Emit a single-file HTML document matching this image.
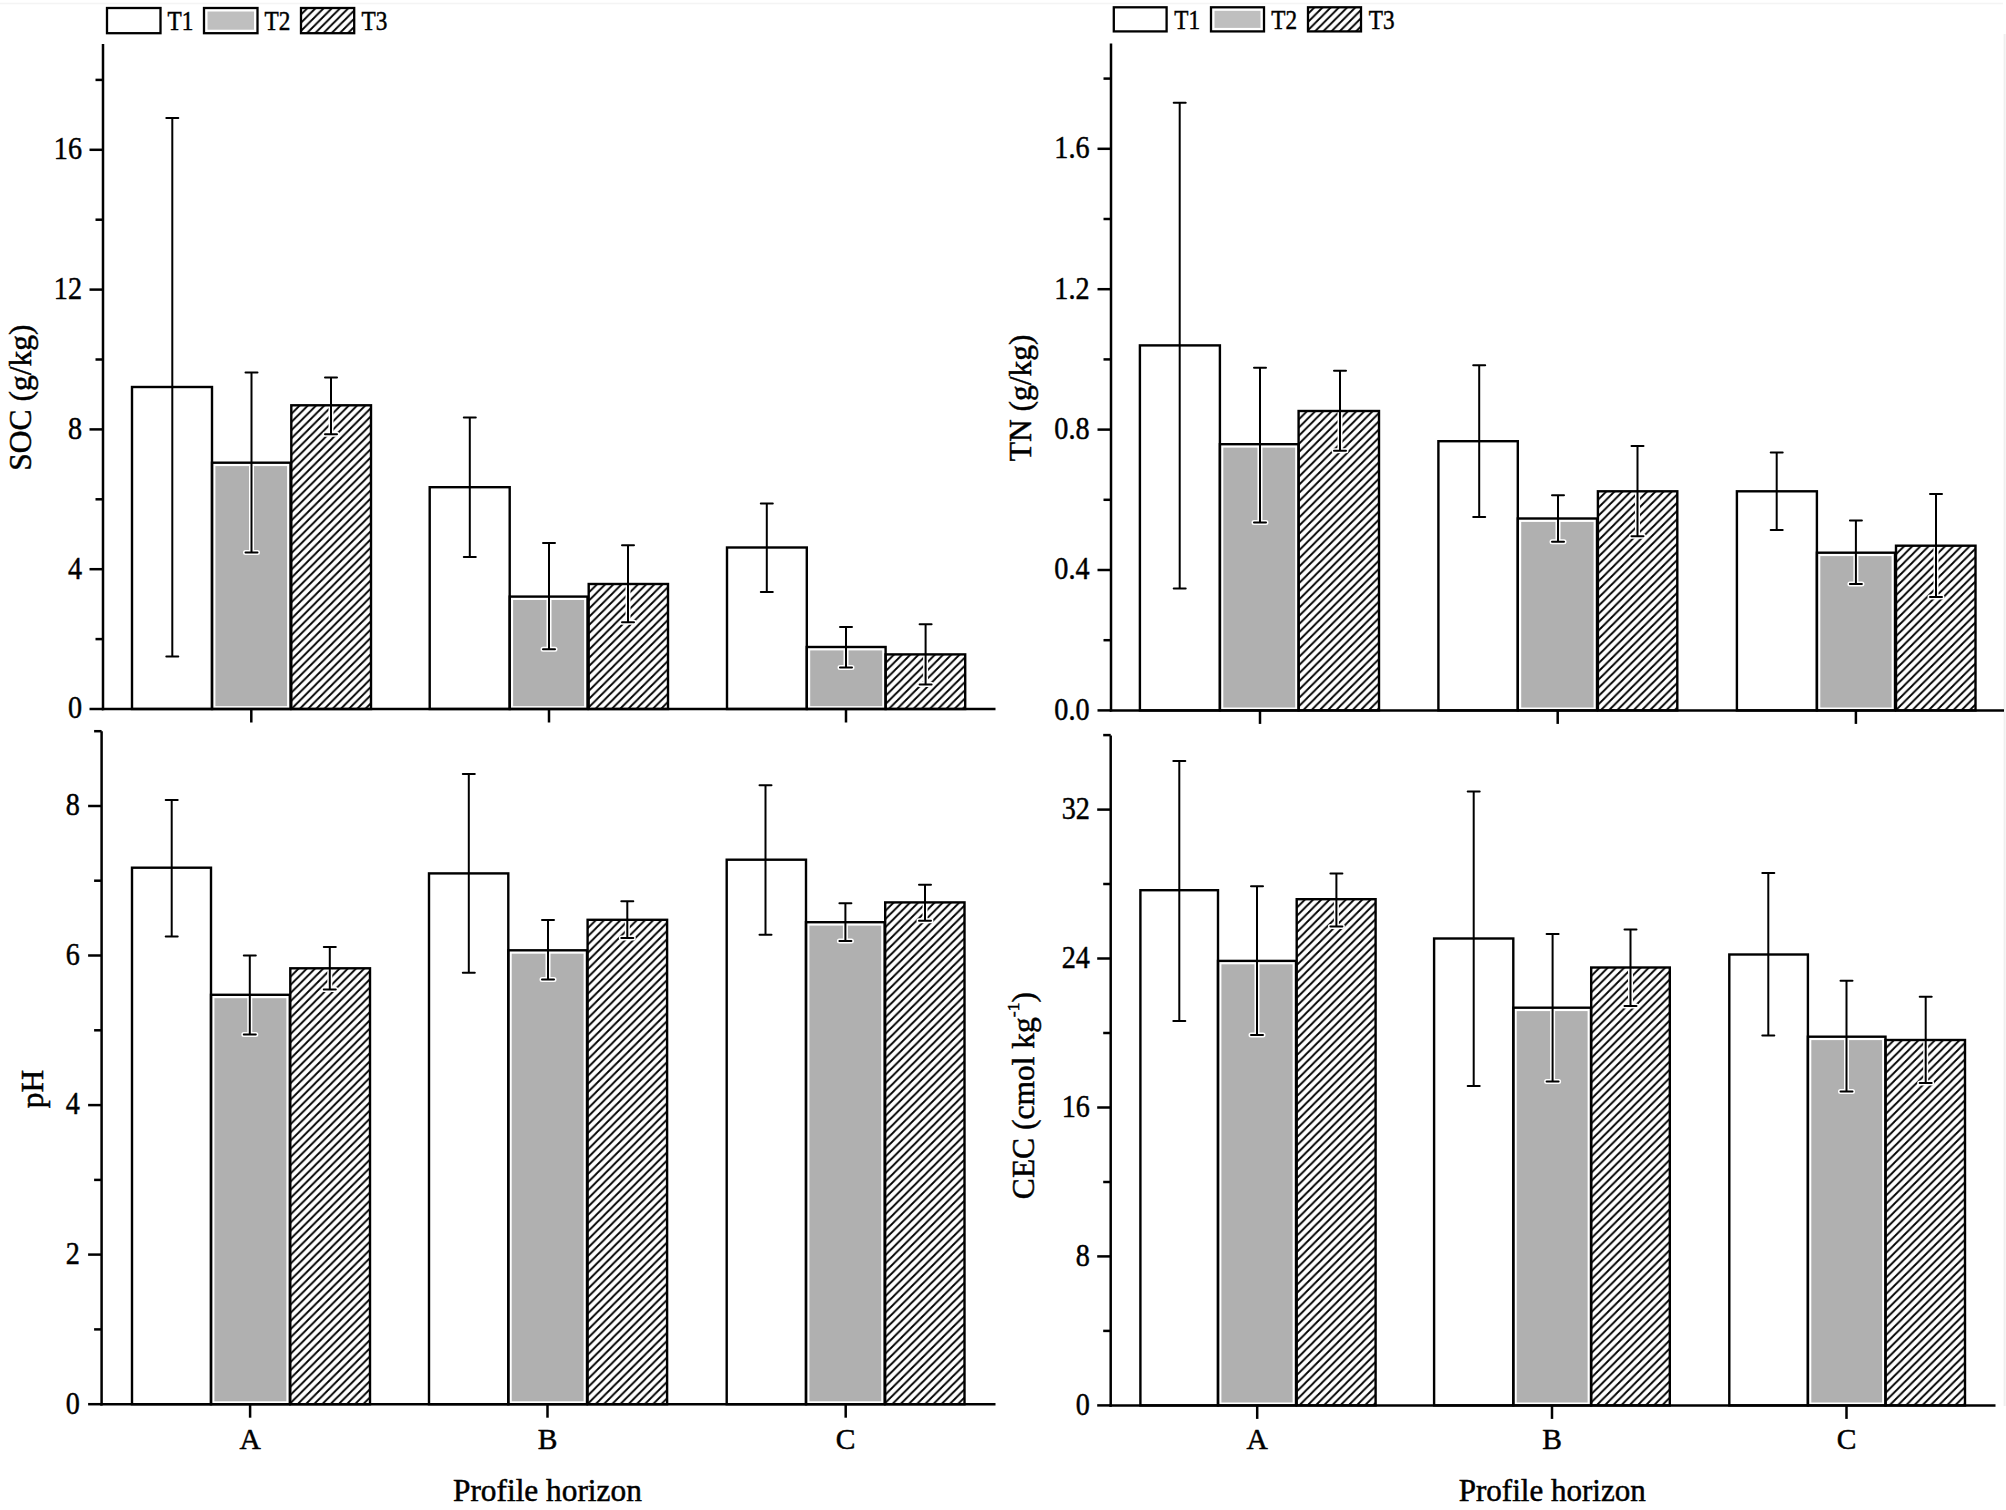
<!DOCTYPE html>
<html><head><meta charset="utf-8"><title>Soil properties by profile horizon</title><style>html,body{margin:0;padding:0;background:#fff;overflow:hidden}svg text{fill:#000;stroke:#000;stroke-width:0.5px}</style></head><body>
<svg width="2006" height="1510" viewBox="0 0 2006 1510" style="display:block;font-family:'Liberation Serif', 'Times New Roman', serif">
<rect width="2006" height="1510" fill="#fff"/>
<line x1="0.0" y1="3.5" x2="2003.0" y2="3.5" stroke="#f4f4f4" stroke-width="1.5" stroke-linecap="butt"/>
<line x1="2004.6" y1="34.0" x2="2004.6" y2="1406.0" stroke="#efefef" stroke-width="2" stroke-linecap="butt"/>
<rect x="132.0" y="387.0" width="80.0" height="322.0" fill="#fff"/>
<rect x="212.0" y="462.7" width="78.5" height="246.3" fill="#fff"/>
<rect x="215.4" y="466.1" width="71.7" height="240.0" fill="#b0b0b0"/>
<defs><pattern id="h1" patternUnits="userSpaceOnUse" width="8.2" height="8.2" patternTransform="translate(299.90,405.30)"><rect width="8.2" height="8.2" fill="#fff"/><path d="M-2,2 L2,-2 M-2,10.20 L10.20,-2 M6.20,10.20 L10.20,6.20" stroke="#000" stroke-width="1.85"/></pattern></defs>
<rect x="291.3" y="405.3" width="79.7" height="303.7" fill="url(#h1)"/>
<rect x="429.7" y="487.2" width="80.0" height="221.8" fill="#fff"/>
<rect x="509.7" y="596.6" width="77.8" height="112.4" fill="#fff"/>
<rect x="513.1" y="600.0" width="71.0" height="106.1" fill="#b0b0b0"/>
<defs><pattern id="h2" patternUnits="userSpaceOnUse" width="8.2" height="8.2" patternTransform="translate(597.30,584.00)"><rect width="8.2" height="8.2" fill="#fff"/><path d="M-2,2 L2,-2 M-2,10.20 L10.20,-2 M6.20,10.20 L10.20,6.20" stroke="#000" stroke-width="1.85"/></pattern></defs>
<rect x="588.7" y="584.0" width="79.3" height="125.0" fill="url(#h2)"/>
<rect x="727.0" y="547.5" width="79.8" height="161.5" fill="#fff"/>
<rect x="806.8" y="647.0" width="78.8" height="62.0" fill="#fff"/>
<rect x="810.2" y="650.4" width="72.0" height="55.7" fill="#b0b0b0"/>
<defs><pattern id="h3" patternUnits="userSpaceOnUse" width="8.2" height="8.2" patternTransform="translate(894.20,654.40)"><rect width="8.2" height="8.2" fill="#fff"/><path d="M-2,2 L2,-2 M-2,10.20 L10.20,-2 M6.20,10.20 L10.20,6.20" stroke="#000" stroke-width="1.85"/></pattern></defs>
<rect x="885.6" y="654.4" width="79.6" height="54.6" fill="url(#h3)"/>
<path d="M251.5,372.6V552.5M245.5,372.6H257.5M245.5,552.5H257.5" fill="none" stroke="#fff" stroke-width="5.0" stroke-linecap="round"/>
<path d="M331.0,377.6V434.2M325.0,377.6H337.0M325.0,434.2H337.0" fill="none" stroke="#fff" stroke-width="5.0" stroke-linecap="round"/>
<path d="M549.0,543.0V649.3M543.0,543.0H555.0M543.0,649.3H555.0" fill="none" stroke="#fff" stroke-width="5.0" stroke-linecap="round"/>
<path d="M628.0,545.3V622.3M622.0,545.3H634.0M622.0,622.3H634.0" fill="none" stroke="#fff" stroke-width="5.0" stroke-linecap="round"/>
<path d="M846.0,626.9V667.4M840.0,626.9H852.0M840.0,667.4H852.0" fill="none" stroke="#fff" stroke-width="5.0" stroke-linecap="round"/>
<path d="M925.6,624.3V684.6M919.6,624.3H931.6M919.6,684.6H931.6" fill="none" stroke="#fff" stroke-width="5.0" stroke-linecap="round"/>
<rect x="132.0" y="387.0" width="80.0" height="322.0" fill="none" stroke="#000" stroke-width="2.4"/>
<rect x="212.0" y="462.7" width="78.5" height="246.3" fill="none" stroke="#000" stroke-width="2.4"/>
<rect x="291.3" y="405.3" width="79.7" height="303.7" fill="none" stroke="#000" stroke-width="2.4"/>
<rect x="429.7" y="487.2" width="80.0" height="221.8" fill="none" stroke="#000" stroke-width="2.4"/>
<rect x="509.7" y="596.6" width="77.8" height="112.4" fill="none" stroke="#000" stroke-width="2.4"/>
<rect x="588.7" y="584.0" width="79.3" height="125.0" fill="none" stroke="#000" stroke-width="2.4"/>
<rect x="727.0" y="547.5" width="79.8" height="161.5" fill="none" stroke="#000" stroke-width="2.4"/>
<rect x="806.8" y="647.0" width="78.8" height="62.0" fill="none" stroke="#000" stroke-width="2.4"/>
<rect x="885.6" y="654.4" width="79.6" height="54.6" fill="none" stroke="#000" stroke-width="2.4"/>
<path d="M172.3,118.0V656.4M166.3,118.0H178.3M166.3,656.4H178.3" fill="none" stroke="#000" stroke-width="2.0" stroke-linecap="round"/>
<path d="M251.5,372.6V552.5M245.5,372.6H257.5M245.5,552.5H257.5" fill="none" stroke="#000" stroke-width="2.0" stroke-linecap="round"/>
<path d="M331.0,377.6V434.2M325.0,377.6H337.0M325.0,434.2H337.0" fill="none" stroke="#000" stroke-width="2.0" stroke-linecap="round"/>
<path d="M469.8,417.6V557.0M463.8,417.6H475.8M463.8,557.0H475.8" fill="none" stroke="#000" stroke-width="2.0" stroke-linecap="round"/>
<path d="M549.0,543.0V649.3M543.0,543.0H555.0M543.0,649.3H555.0" fill="none" stroke="#000" stroke-width="2.0" stroke-linecap="round"/>
<path d="M628.0,545.3V622.3M622.0,545.3H634.0M622.0,622.3H634.0" fill="none" stroke="#000" stroke-width="2.0" stroke-linecap="round"/>
<path d="M766.8,503.6V592.0M760.8,503.6H772.8M760.8,592.0H772.8" fill="none" stroke="#000" stroke-width="2.0" stroke-linecap="round"/>
<path d="M846.0,626.9V667.4M840.0,626.9H852.0M840.0,667.4H852.0" fill="none" stroke="#000" stroke-width="2.0" stroke-linecap="round"/>
<path d="M925.6,624.3V684.6M919.6,624.3H931.6M919.6,684.6H931.6" fill="none" stroke="#000" stroke-width="2.0" stroke-linecap="round"/>
<line x1="103.0" y1="44.0" x2="103.0" y2="710.2" stroke="#000" stroke-width="2.5" stroke-linecap="butt"/>
<line x1="101.8" y1="709.0" x2="995.5" y2="709.0" stroke="#000" stroke-width="2.5" stroke-linecap="butt"/>
<line x1="89.5" y1="709.0" x2="103.0" y2="709.0" stroke="#000" stroke-width="2.5" stroke-linecap="butt"/>
<text font-size="32" text-anchor="end" transform="translate(82.0,718.3) scale(0.88,1)">0</text>
<line x1="89.5" y1="569.2" x2="103.0" y2="569.2" stroke="#000" stroke-width="2.5" stroke-linecap="butt"/>
<text font-size="32" text-anchor="end" transform="translate(82.0,578.5) scale(0.88,1)">4</text>
<line x1="89.5" y1="429.4" x2="103.0" y2="429.4" stroke="#000" stroke-width="2.5" stroke-linecap="butt"/>
<text font-size="32" text-anchor="end" transform="translate(82.0,438.7) scale(0.88,1)">8</text>
<line x1="89.5" y1="289.6" x2="103.0" y2="289.6" stroke="#000" stroke-width="2.5" stroke-linecap="butt"/>
<text font-size="32" text-anchor="end" transform="translate(82.0,298.9) scale(0.88,1)">12</text>
<line x1="89.5" y1="149.8" x2="103.0" y2="149.8" stroke="#000" stroke-width="2.5" stroke-linecap="butt"/>
<text font-size="32" text-anchor="end" transform="translate(82.0,159.1) scale(0.88,1)">16</text>
<line x1="95.5" y1="639.1" x2="103.0" y2="639.1" stroke="#000" stroke-width="2.5" stroke-linecap="butt"/>
<line x1="95.5" y1="499.3" x2="103.0" y2="499.3" stroke="#000" stroke-width="2.5" stroke-linecap="butt"/>
<line x1="95.5" y1="359.5" x2="103.0" y2="359.5" stroke="#000" stroke-width="2.5" stroke-linecap="butt"/>
<line x1="95.5" y1="219.7" x2="103.0" y2="219.7" stroke="#000" stroke-width="2.5" stroke-linecap="butt"/>
<line x1="95.5" y1="79.9" x2="103.0" y2="79.9" stroke="#000" stroke-width="2.5" stroke-linecap="butt"/>
<line x1="251.3" y1="709.0" x2="251.3" y2="722.5" stroke="#000" stroke-width="2.5" stroke-linecap="butt"/>
<line x1="549.0" y1="709.0" x2="549.0" y2="722.5" stroke="#000" stroke-width="2.5" stroke-linecap="butt"/>
<line x1="846.0" y1="709.0" x2="846.0" y2="722.5" stroke="#000" stroke-width="2.5" stroke-linecap="butt"/>
<rect x="1139.9" y="345.4" width="80.0" height="365.0" fill="#fff"/>
<rect x="1219.9" y="444.2" width="78.7" height="266.2" fill="#fff"/>
<rect x="1223.3" y="447.6" width="71.9" height="259.9" fill="#b0b0b0"/>
<defs><pattern id="h4" patternUnits="userSpaceOnUse" width="8.2" height="8.2" patternTransform="translate(1307.20,411.00)"><rect width="8.2" height="8.2" fill="#fff"/><path d="M-2,2 L2,-2 M-2,10.20 L10.20,-2 M6.20,10.20 L10.20,6.20" stroke="#000" stroke-width="1.85"/></pattern></defs>
<rect x="1298.6" y="411.0" width="80.4" height="299.4" fill="url(#h4)"/>
<rect x="1438.4" y="441.2" width="79.4" height="269.2" fill="#fff"/>
<rect x="1517.8" y="518.5" width="79.2" height="191.9" fill="#fff"/>
<rect x="1521.2" y="521.9" width="72.4" height="185.6" fill="#b0b0b0"/>
<defs><pattern id="h5" patternUnits="userSpaceOnUse" width="8.2" height="8.2" patternTransform="translate(1606.50,491.30)"><rect width="8.2" height="8.2" fill="#fff"/><path d="M-2,2 L2,-2 M-2,10.20 L10.20,-2 M6.20,10.20 L10.20,6.20" stroke="#000" stroke-width="1.85"/></pattern></defs>
<rect x="1597.9" y="491.3" width="79.4" height="219.1" fill="url(#h5)"/>
<rect x="1736.9" y="491.3" width="80.0" height="219.1" fill="#fff"/>
<rect x="1816.9" y="552.7" width="78.1" height="157.7" fill="#fff"/>
<rect x="1820.3" y="556.1" width="71.3" height="151.4" fill="#b0b0b0"/>
<defs><pattern id="h6" patternUnits="userSpaceOnUse" width="8.2" height="8.2" patternTransform="translate(1904.60,545.70)"><rect width="8.2" height="8.2" fill="#fff"/><path d="M-2,2 L2,-2 M-2,10.20 L10.20,-2 M6.20,10.20 L10.20,6.20" stroke="#000" stroke-width="1.85"/></pattern></defs>
<rect x="1896.0" y="545.7" width="79.5" height="164.7" fill="url(#h6)"/>
<path d="M1260.0,367.7V522.4M1254.0,367.7H1266.0M1254.0,522.4H1266.0" fill="none" stroke="#fff" stroke-width="5.0" stroke-linecap="round"/>
<path d="M1340.0,370.7V450.7M1334.0,370.7H1346.0M1334.0,450.7H1346.0" fill="none" stroke="#fff" stroke-width="5.0" stroke-linecap="round"/>
<path d="M1558.0,495.3V541.8M1552.0,495.3H1564.0M1552.0,541.8H1564.0" fill="none" stroke="#fff" stroke-width="5.0" stroke-linecap="round"/>
<path d="M1637.5,446.0V536.3M1631.5,446.0H1643.5M1631.5,536.3H1643.5" fill="none" stroke="#fff" stroke-width="5.0" stroke-linecap="round"/>
<path d="M1855.9,520.6V584.1M1849.9,520.6H1861.9M1849.9,584.1H1861.9" fill="none" stroke="#fff" stroke-width="5.0" stroke-linecap="round"/>
<path d="M1936.0,494.0V597.1M1930.0,494.0H1942.0M1930.0,597.1H1942.0" fill="none" stroke="#fff" stroke-width="5.0" stroke-linecap="round"/>
<rect x="1139.9" y="345.4" width="80.0" height="365.0" fill="none" stroke="#000" stroke-width="2.4"/>
<rect x="1219.9" y="444.2" width="78.7" height="266.2" fill="none" stroke="#000" stroke-width="2.4"/>
<rect x="1298.6" y="411.0" width="80.4" height="299.4" fill="none" stroke="#000" stroke-width="2.4"/>
<rect x="1438.4" y="441.2" width="79.4" height="269.2" fill="none" stroke="#000" stroke-width="2.4"/>
<rect x="1517.8" y="518.5" width="79.2" height="191.9" fill="none" stroke="#000" stroke-width="2.4"/>
<rect x="1597.9" y="491.3" width="79.4" height="219.1" fill="none" stroke="#000" stroke-width="2.4"/>
<rect x="1736.9" y="491.3" width="80.0" height="219.1" fill="none" stroke="#000" stroke-width="2.4"/>
<rect x="1816.9" y="552.7" width="78.1" height="157.7" fill="none" stroke="#000" stroke-width="2.4"/>
<rect x="1896.0" y="545.7" width="79.5" height="164.7" fill="none" stroke="#000" stroke-width="2.4"/>
<path d="M1179.7,102.7V588.4M1173.7,102.7H1185.7M1173.7,588.4H1185.7" fill="none" stroke="#000" stroke-width="2.0" stroke-linecap="round"/>
<path d="M1260.0,367.7V522.4M1254.0,367.7H1266.0M1254.0,522.4H1266.0" fill="none" stroke="#000" stroke-width="2.0" stroke-linecap="round"/>
<path d="M1340.0,370.7V450.7M1334.0,370.7H1346.0M1334.0,450.7H1346.0" fill="none" stroke="#000" stroke-width="2.0" stroke-linecap="round"/>
<path d="M1479.2,365.3V517.0M1473.2,365.3H1485.2M1473.2,517.0H1485.2" fill="none" stroke="#000" stroke-width="2.0" stroke-linecap="round"/>
<path d="M1558.0,495.3V541.8M1552.0,495.3H1564.0M1552.0,541.8H1564.0" fill="none" stroke="#000" stroke-width="2.0" stroke-linecap="round"/>
<path d="M1637.5,446.0V536.3M1631.5,446.0H1643.5M1631.5,536.3H1643.5" fill="none" stroke="#000" stroke-width="2.0" stroke-linecap="round"/>
<path d="M1776.7,452.4V530.0M1770.7,452.4H1782.7M1770.7,530.0H1782.7" fill="none" stroke="#000" stroke-width="2.0" stroke-linecap="round"/>
<path d="M1855.9,520.6V584.1M1849.9,520.6H1861.9M1849.9,584.1H1861.9" fill="none" stroke="#000" stroke-width="2.0" stroke-linecap="round"/>
<path d="M1936.0,494.0V597.1M1930.0,494.0H1942.0M1930.0,597.1H1942.0" fill="none" stroke="#000" stroke-width="2.0" stroke-linecap="round"/>
<line x1="1111.0" y1="43.6" x2="1111.0" y2="711.6" stroke="#000" stroke-width="2.5" stroke-linecap="butt"/>
<line x1="1109.8" y1="710.4" x2="2004.0" y2="710.4" stroke="#000" stroke-width="2.5" stroke-linecap="butt"/>
<line x1="1097.5" y1="710.4" x2="1111.0" y2="710.4" stroke="#000" stroke-width="2.5" stroke-linecap="butt"/>
<text font-size="32" text-anchor="end" transform="translate(1089.5,719.7) scale(0.88,1)">0.0</text>
<line x1="1097.5" y1="570.0" x2="1111.0" y2="570.0" stroke="#000" stroke-width="2.5" stroke-linecap="butt"/>
<text font-size="32" text-anchor="end" transform="translate(1089.5,579.3) scale(0.88,1)">0.4</text>
<line x1="1097.5" y1="429.6" x2="1111.0" y2="429.6" stroke="#000" stroke-width="2.5" stroke-linecap="butt"/>
<text font-size="32" text-anchor="end" transform="translate(1089.5,438.9) scale(0.88,1)">0.8</text>
<line x1="1097.5" y1="289.2" x2="1111.0" y2="289.2" stroke="#000" stroke-width="2.5" stroke-linecap="butt"/>
<text font-size="32" text-anchor="end" transform="translate(1089.5,298.5) scale(0.88,1)">1.2</text>
<line x1="1097.5" y1="148.8" x2="1111.0" y2="148.8" stroke="#000" stroke-width="2.5" stroke-linecap="butt"/>
<text font-size="32" text-anchor="end" transform="translate(1089.5,158.1) scale(0.88,1)">1.6</text>
<line x1="1103.5" y1="640.2" x2="1111.0" y2="640.2" stroke="#000" stroke-width="2.5" stroke-linecap="butt"/>
<line x1="1103.5" y1="499.8" x2="1111.0" y2="499.8" stroke="#000" stroke-width="2.5" stroke-linecap="butt"/>
<line x1="1103.5" y1="359.4" x2="1111.0" y2="359.4" stroke="#000" stroke-width="2.5" stroke-linecap="butt"/>
<line x1="1103.5" y1="219.0" x2="1111.0" y2="219.0" stroke="#000" stroke-width="2.5" stroke-linecap="butt"/>
<line x1="1103.5" y1="78.6" x2="1111.0" y2="78.6" stroke="#000" stroke-width="2.5" stroke-linecap="butt"/>
<line x1="1260.0" y1="710.4" x2="1260.0" y2="723.9" stroke="#000" stroke-width="2.5" stroke-linecap="butt"/>
<line x1="1557.7" y1="710.4" x2="1557.7" y2="723.9" stroke="#000" stroke-width="2.5" stroke-linecap="butt"/>
<line x1="1855.9" y1="710.4" x2="1855.9" y2="723.9" stroke="#000" stroke-width="2.5" stroke-linecap="butt"/>
<rect x="132.0" y="867.7" width="79.0" height="536.5" fill="#fff"/>
<rect x="211.0" y="994.8" width="78.8" height="409.4" fill="#fff"/>
<rect x="214.4" y="998.2" width="72.0" height="403.1" fill="#b0b0b0"/>
<defs><pattern id="h7" patternUnits="userSpaceOnUse" width="8.2" height="8.2" patternTransform="translate(298.90,968.30)"><rect width="8.2" height="8.2" fill="#fff"/><path d="M-2,2 L2,-2 M-2,10.20 L10.20,-2 M6.20,10.20 L10.20,6.20" stroke="#000" stroke-width="1.85"/></pattern></defs>
<rect x="290.3" y="968.3" width="79.7" height="435.9" fill="url(#h7)"/>
<rect x="429.0" y="873.4" width="79.3" height="530.8" fill="#fff"/>
<rect x="508.3" y="950.3" width="78.7" height="453.9" fill="#fff"/>
<rect x="511.7" y="953.7" width="71.9" height="447.6" fill="#b0b0b0"/>
<defs><pattern id="h8" patternUnits="userSpaceOnUse" width="8.2" height="8.2" patternTransform="translate(596.20,919.80)"><rect width="8.2" height="8.2" fill="#fff"/><path d="M-2,2 L2,-2 M-2,10.20 L10.20,-2 M6.20,10.20 L10.20,6.20" stroke="#000" stroke-width="1.85"/></pattern></defs>
<rect x="587.6" y="919.8" width="79.5" height="484.4" fill="url(#h8)"/>
<rect x="726.7" y="859.7" width="79.3" height="544.5" fill="#fff"/>
<rect x="806.0" y="922.2" width="78.6" height="482.0" fill="#fff"/>
<rect x="809.4" y="925.6" width="71.8" height="475.7" fill="#b0b0b0"/>
<defs><pattern id="h9" patternUnits="userSpaceOnUse" width="8.2" height="8.2" patternTransform="translate(893.80,902.40)"><rect width="8.2" height="8.2" fill="#fff"/><path d="M-2,2 L2,-2 M-2,10.20 L10.20,-2 M6.20,10.20 L10.20,6.20" stroke="#000" stroke-width="1.85"/></pattern></defs>
<rect x="885.2" y="902.4" width="79.3" height="501.8" fill="url(#h9)"/>
<path d="M249.8,955.6V1034.6M243.8,955.6H255.8M243.8,1034.6H255.8" fill="none" stroke="#fff" stroke-width="5.0" stroke-linecap="round"/>
<path d="M329.8,946.9V989.5M323.8,946.9H335.8M323.8,989.5H335.8" fill="none" stroke="#fff" stroke-width="5.0" stroke-linecap="round"/>
<path d="M548.0,920.0V979.6M542.0,920.0H554.0M542.0,979.6H554.0" fill="none" stroke="#fff" stroke-width="5.0" stroke-linecap="round"/>
<path d="M627.3,901.2V938.0M621.3,901.2H633.3M621.3,938.0H633.3" fill="none" stroke="#fff" stroke-width="5.0" stroke-linecap="round"/>
<path d="M845.4,903.3V941.0M839.4,903.3H851.4M839.4,941.0H851.4" fill="none" stroke="#fff" stroke-width="5.0" stroke-linecap="round"/>
<path d="M925.0,884.8V920.7M919.0,884.8H931.0M919.0,920.7H931.0" fill="none" stroke="#fff" stroke-width="5.0" stroke-linecap="round"/>
<rect x="132.0" y="867.7" width="79.0" height="536.5" fill="none" stroke="#000" stroke-width="2.4"/>
<rect x="211.0" y="994.8" width="78.8" height="409.4" fill="none" stroke="#000" stroke-width="2.4"/>
<rect x="290.3" y="968.3" width="79.7" height="435.9" fill="none" stroke="#000" stroke-width="2.4"/>
<rect x="429.0" y="873.4" width="79.3" height="530.8" fill="none" stroke="#000" stroke-width="2.4"/>
<rect x="508.3" y="950.3" width="78.7" height="453.9" fill="none" stroke="#000" stroke-width="2.4"/>
<rect x="587.6" y="919.8" width="79.5" height="484.4" fill="none" stroke="#000" stroke-width="2.4"/>
<rect x="726.7" y="859.7" width="79.3" height="544.5" fill="none" stroke="#000" stroke-width="2.4"/>
<rect x="806.0" y="922.2" width="78.6" height="482.0" fill="none" stroke="#000" stroke-width="2.4"/>
<rect x="885.2" y="902.4" width="79.3" height="501.8" fill="none" stroke="#000" stroke-width="2.4"/>
<path d="M171.7,799.9V936.6M165.7,799.9H177.7M165.7,936.6H177.7" fill="none" stroke="#000" stroke-width="2.0" stroke-linecap="round"/>
<path d="M249.8,955.6V1034.6M243.8,955.6H255.8M243.8,1034.6H255.8" fill="none" stroke="#000" stroke-width="2.0" stroke-linecap="round"/>
<path d="M329.8,946.9V989.5M323.8,946.9H335.8M323.8,989.5H335.8" fill="none" stroke="#000" stroke-width="2.0" stroke-linecap="round"/>
<path d="M468.8,774.1V972.7M462.8,774.1H474.8M462.8,972.7H474.8" fill="none" stroke="#000" stroke-width="2.0" stroke-linecap="round"/>
<path d="M548.0,920.0V979.6M542.0,920.0H554.0M542.0,979.6H554.0" fill="none" stroke="#000" stroke-width="2.0" stroke-linecap="round"/>
<path d="M627.3,901.2V938.0M621.3,901.2H633.3M621.3,938.0H633.3" fill="none" stroke="#000" stroke-width="2.0" stroke-linecap="round"/>
<path d="M765.5,785.2V934.7M759.5,785.2H771.5M759.5,934.7H771.5" fill="none" stroke="#000" stroke-width="2.0" stroke-linecap="round"/>
<path d="M845.4,903.3V941.0M839.4,903.3H851.4M839.4,941.0H851.4" fill="none" stroke="#000" stroke-width="2.0" stroke-linecap="round"/>
<path d="M925.0,884.8V920.7M919.0,884.8H931.0M919.0,920.7H931.0" fill="none" stroke="#000" stroke-width="2.0" stroke-linecap="round"/>
<line x1="101.6" y1="731.2" x2="101.6" y2="1405.5" stroke="#000" stroke-width="2.5" stroke-linecap="butt"/>
<line x1="100.3" y1="1404.2" x2="995.5" y2="1404.2" stroke="#000" stroke-width="2.5" stroke-linecap="butt"/>
<line x1="88.1" y1="1404.2" x2="101.6" y2="1404.2" stroke="#000" stroke-width="2.5" stroke-linecap="butt"/>
<text font-size="32" text-anchor="end" transform="translate(79.9,1413.5) scale(0.88,1)">0</text>
<line x1="88.1" y1="1254.6" x2="101.6" y2="1254.6" stroke="#000" stroke-width="2.5" stroke-linecap="butt"/>
<text font-size="32" text-anchor="end" transform="translate(79.9,1263.9) scale(0.88,1)">2</text>
<line x1="88.1" y1="1105.1" x2="101.6" y2="1105.1" stroke="#000" stroke-width="2.5" stroke-linecap="butt"/>
<text font-size="32" text-anchor="end" transform="translate(79.9,1114.4) scale(0.88,1)">4</text>
<line x1="88.1" y1="955.5" x2="101.6" y2="955.5" stroke="#000" stroke-width="2.5" stroke-linecap="butt"/>
<text font-size="32" text-anchor="end" transform="translate(79.9,964.8) scale(0.88,1)">6</text>
<line x1="88.1" y1="806.0" x2="101.6" y2="806.0" stroke="#000" stroke-width="2.5" stroke-linecap="butt"/>
<text font-size="32" text-anchor="end" transform="translate(79.9,815.3) scale(0.88,1)">8</text>
<line x1="94.1" y1="1329.4" x2="101.6" y2="1329.4" stroke="#000" stroke-width="2.5" stroke-linecap="butt"/>
<line x1="94.1" y1="1179.9" x2="101.6" y2="1179.9" stroke="#000" stroke-width="2.5" stroke-linecap="butt"/>
<line x1="94.1" y1="1030.3" x2="101.6" y2="1030.3" stroke="#000" stroke-width="2.5" stroke-linecap="butt"/>
<line x1="94.1" y1="880.7" x2="101.6" y2="880.7" stroke="#000" stroke-width="2.5" stroke-linecap="butt"/>
<line x1="94.1" y1="731.2" x2="101.6" y2="731.2" stroke="#000" stroke-width="2.5" stroke-linecap="butt"/>
<line x1="250.1" y1="1404.2" x2="250.1" y2="1417.7" stroke="#000" stroke-width="2.5" stroke-linecap="butt"/>
<text x="250.1" y="1448.6" font-size="29.5" text-anchor="middle" >A</text>
<line x1="547.5" y1="1404.2" x2="547.5" y2="1417.7" stroke="#000" stroke-width="2.5" stroke-linecap="butt"/>
<text x="547.5" y="1448.6" font-size="29.5" text-anchor="middle" >B</text>
<line x1="845.7" y1="1404.2" x2="845.7" y2="1417.7" stroke="#000" stroke-width="2.5" stroke-linecap="butt"/>
<text x="845.7" y="1448.6" font-size="29.5" text-anchor="middle" >C</text>
<rect x="1140.4" y="890.2" width="77.6" height="515.2" fill="#fff"/>
<rect x="1218.0" y="960.9" width="78.0" height="444.5" fill="#fff"/>
<rect x="1221.4" y="964.3" width="71.2" height="438.2" fill="#b0b0b0"/>
<defs><pattern id="h10" patternUnits="userSpaceOnUse" width="8.2" height="8.2" patternTransform="translate(1305.30,899.20)"><rect width="8.2" height="8.2" fill="#fff"/><path d="M-2,2 L2,-2 M-2,10.20 L10.20,-2 M6.20,10.20 L10.20,6.20" stroke="#000" stroke-width="1.85"/></pattern></defs>
<rect x="1296.7" y="899.2" width="78.9" height="506.2" fill="url(#h10)"/>
<rect x="1434.1" y="938.5" width="79.2" height="466.9" fill="#fff"/>
<rect x="1513.3" y="1007.7" width="77.7" height="397.7" fill="#fff"/>
<rect x="1516.7" y="1011.1" width="70.9" height="391.4" fill="#b0b0b0"/>
<defs><pattern id="h11" patternUnits="userSpaceOnUse" width="8.2" height="8.2" patternTransform="translate(1599.80,967.50)"><rect width="8.2" height="8.2" fill="#fff"/><path d="M-2,2 L2,-2 M-2,10.20 L10.20,-2 M6.20,10.20 L10.20,6.20" stroke="#000" stroke-width="1.85"/></pattern></defs>
<rect x="1591.2" y="967.5" width="78.6" height="437.9" fill="url(#h11)"/>
<rect x="1729.3" y="954.5" width="78.6" height="450.9" fill="#fff"/>
<rect x="1807.9" y="1036.7" width="77.6" height="368.7" fill="#fff"/>
<rect x="1811.3" y="1040.1" width="70.8" height="362.4" fill="#b0b0b0"/>
<defs><pattern id="h12" patternUnits="userSpaceOnUse" width="8.2" height="8.2" patternTransform="translate(1894.10,1040.00)"><rect width="8.2" height="8.2" fill="#fff"/><path d="M-2,2 L2,-2 M-2,10.20 L10.20,-2 M6.20,10.20 L10.20,6.20" stroke="#000" stroke-width="1.85"/></pattern></defs>
<rect x="1885.5" y="1040.0" width="79.5" height="365.4" fill="url(#h12)"/>
<path d="M1257.0,886.2V1035.1M1251.0,886.2H1263.0M1251.0,1035.1H1263.0" fill="none" stroke="#fff" stroke-width="5.0" stroke-linecap="round"/>
<path d="M1336.4,873.5V926.5M1330.4,873.5H1342.4M1330.4,926.5H1342.4" fill="none" stroke="#fff" stroke-width="5.0" stroke-linecap="round"/>
<path d="M1552.6,934.0V1081.4M1546.6,934.0H1558.6M1546.6,1081.4H1558.6" fill="none" stroke="#fff" stroke-width="5.0" stroke-linecap="round"/>
<path d="M1630.5,929.4V1005.9M1624.5,929.4H1636.5M1624.5,1005.9H1636.5" fill="none" stroke="#fff" stroke-width="5.0" stroke-linecap="round"/>
<path d="M1846.5,980.8V1091.4M1840.5,980.8H1852.5M1840.5,1091.4H1852.5" fill="none" stroke="#fff" stroke-width="5.0" stroke-linecap="round"/>
<path d="M1925.7,996.8V1082.9M1919.7,996.8H1931.7M1919.7,1082.9H1931.7" fill="none" stroke="#fff" stroke-width="5.0" stroke-linecap="round"/>
<rect x="1140.4" y="890.2" width="77.6" height="515.2" fill="none" stroke="#000" stroke-width="2.4"/>
<rect x="1218.0" y="960.9" width="78.0" height="444.5" fill="none" stroke="#000" stroke-width="2.4"/>
<rect x="1296.7" y="899.2" width="78.9" height="506.2" fill="none" stroke="#000" stroke-width="2.4"/>
<rect x="1434.1" y="938.5" width="79.2" height="466.9" fill="none" stroke="#000" stroke-width="2.4"/>
<rect x="1513.3" y="1007.7" width="77.7" height="397.7" fill="none" stroke="#000" stroke-width="2.4"/>
<rect x="1591.2" y="967.5" width="78.6" height="437.9" fill="none" stroke="#000" stroke-width="2.4"/>
<rect x="1729.3" y="954.5" width="78.6" height="450.9" fill="none" stroke="#000" stroke-width="2.4"/>
<rect x="1807.9" y="1036.7" width="77.6" height="368.7" fill="none" stroke="#000" stroke-width="2.4"/>
<rect x="1885.5" y="1040.0" width="79.5" height="365.4" fill="none" stroke="#000" stroke-width="2.4"/>
<path d="M1179.3,760.9V1021.0M1173.3,760.9H1185.3M1173.3,1021.0H1185.3" fill="none" stroke="#000" stroke-width="2.0" stroke-linecap="round"/>
<path d="M1257.0,886.2V1035.1M1251.0,886.2H1263.0M1251.0,1035.1H1263.0" fill="none" stroke="#000" stroke-width="2.0" stroke-linecap="round"/>
<path d="M1336.4,873.5V926.5M1330.4,873.5H1342.4M1330.4,926.5H1342.4" fill="none" stroke="#000" stroke-width="2.0" stroke-linecap="round"/>
<path d="M1473.7,791.4V1085.9M1467.7,791.4H1479.7M1467.7,1085.9H1479.7" fill="none" stroke="#000" stroke-width="2.0" stroke-linecap="round"/>
<path d="M1552.6,934.0V1081.4M1546.6,934.0H1558.6M1546.6,1081.4H1558.6" fill="none" stroke="#000" stroke-width="2.0" stroke-linecap="round"/>
<path d="M1630.5,929.4V1005.9M1624.5,929.4H1636.5M1624.5,1005.9H1636.5" fill="none" stroke="#000" stroke-width="2.0" stroke-linecap="round"/>
<path d="M1768.3,872.9V1035.5M1762.3,872.9H1774.3M1762.3,1035.5H1774.3" fill="none" stroke="#000" stroke-width="2.0" stroke-linecap="round"/>
<path d="M1846.5,980.8V1091.4M1840.5,980.8H1852.5M1840.5,1091.4H1852.5" fill="none" stroke="#000" stroke-width="2.0" stroke-linecap="round"/>
<path d="M1925.7,996.8V1082.9M1919.7,996.8H1931.7M1919.7,1082.9H1931.7" fill="none" stroke="#000" stroke-width="2.0" stroke-linecap="round"/>
<line x1="1110.7" y1="735.5" x2="1110.7" y2="1406.7" stroke="#000" stroke-width="2.5" stroke-linecap="butt"/>
<line x1="1109.5" y1="1405.4" x2="1995.5" y2="1405.4" stroke="#000" stroke-width="2.5" stroke-linecap="butt"/>
<line x1="1097.2" y1="1405.4" x2="1110.7" y2="1405.4" stroke="#000" stroke-width="2.5" stroke-linecap="butt"/>
<text font-size="32" text-anchor="end" transform="translate(1089.8,1414.7) scale(0.88,1)">0</text>
<line x1="1097.2" y1="1256.4" x2="1110.7" y2="1256.4" stroke="#000" stroke-width="2.5" stroke-linecap="butt"/>
<text font-size="32" text-anchor="end" transform="translate(1089.8,1265.7) scale(0.88,1)">8</text>
<line x1="1097.2" y1="1107.5" x2="1110.7" y2="1107.5" stroke="#000" stroke-width="2.5" stroke-linecap="butt"/>
<text font-size="32" text-anchor="end" transform="translate(1089.8,1116.8) scale(0.88,1)">16</text>
<line x1="1097.2" y1="958.5" x2="1110.7" y2="958.5" stroke="#000" stroke-width="2.5" stroke-linecap="butt"/>
<text font-size="32" text-anchor="end" transform="translate(1089.8,967.8) scale(0.88,1)">24</text>
<line x1="1097.2" y1="809.6" x2="1110.7" y2="809.6" stroke="#000" stroke-width="2.5" stroke-linecap="butt"/>
<text font-size="32" text-anchor="end" transform="translate(1089.8,818.9) scale(0.88,1)">32</text>
<line x1="1103.2" y1="1330.9" x2="1110.7" y2="1330.9" stroke="#000" stroke-width="2.5" stroke-linecap="butt"/>
<line x1="1103.2" y1="1182.0" x2="1110.7" y2="1182.0" stroke="#000" stroke-width="2.5" stroke-linecap="butt"/>
<line x1="1103.2" y1="1033.0" x2="1110.7" y2="1033.0" stroke="#000" stroke-width="2.5" stroke-linecap="butt"/>
<line x1="1103.2" y1="884.0" x2="1110.7" y2="884.0" stroke="#000" stroke-width="2.5" stroke-linecap="butt"/>
<line x1="1103.2" y1="735.1" x2="1110.7" y2="735.1" stroke="#000" stroke-width="2.5" stroke-linecap="butt"/>
<line x1="1257.2" y1="1405.4" x2="1257.2" y2="1418.9" stroke="#000" stroke-width="2.5" stroke-linecap="butt"/>
<text x="1257.2" y="1448.6" font-size="29.5" text-anchor="middle" >A</text>
<line x1="1552.0" y1="1405.4" x2="1552.0" y2="1418.9" stroke="#000" stroke-width="2.5" stroke-linecap="butt"/>
<text x="1552.0" y="1448.6" font-size="29.5" text-anchor="middle" >B</text>
<line x1="1846.5" y1="1405.4" x2="1846.5" y2="1418.9" stroke="#000" stroke-width="2.5" stroke-linecap="butt"/>
<text x="1846.5" y="1448.6" font-size="29.5" text-anchor="middle" >C</text>
<text x="0" y="0" font-size="31.5" text-anchor="middle" transform="translate(31.2,397.7) rotate(-90)">SOC (g/kg)</text>
<text x="0" y="0" font-size="31.5" text-anchor="middle" transform="translate(1031.3,397.9) rotate(-90)">TN (g/kg)</text>
<text x="0" y="0" font-size="31.5" text-anchor="middle" transform="translate(42.9,1089.0) rotate(-90)">pH</text>
<text x="0" y="0" font-size="31.5" text-anchor="middle" transform="translate(1034.2,1095.6) rotate(-90)">CEC (cmol kg<tspan font-size="17.5" dy="-15">-1</tspan><tspan dy="15">)</tspan></text>
<text font-size="31.5" text-anchor="middle" transform="translate(547.4,1500.6) scale(0.995,1)">Profile horizon</text>
<text font-size="31.5" text-anchor="middle" transform="translate(1552.2,1501) scale(0.985,1)">Profile horizon</text>
<rect x="107.0" y="8.0" width="53.5" height="25.2" fill="#fff" stroke="#000" stroke-width="2.3"/>
<rect x="204.0" y="8.0" width="53.5" height="25.2" fill="#fff" stroke="#000" stroke-width="2.3"/>
<rect x="207.5" y="11.5" width="46.5" height="18.2" fill="#bfbfbf"/>
<defs><pattern id="h13" patternUnits="userSpaceOnUse" width="8.2" height="8.2" patternTransform="translate(307.50,8.00)"><rect width="8.2" height="8.2" fill="#fff"/><path d="M-2,2 L2,-2 M-2,10.20 L10.20,-2 M6.20,10.20 L10.20,6.20" stroke="#000" stroke-width="1.85"/></pattern></defs>
<rect x="301.0" y="8.0" width="53.2" height="25.2" fill="url(#h13)" stroke="#000" stroke-width="2.3"/>
<text font-size="27" transform="translate(167.5,29.6) scale(0.86,1)">T1</text>
<text font-size="27" transform="translate(264.5,29.6) scale(0.86,1)">T2</text>
<text font-size="27" transform="translate(361.5,29.6) scale(0.86,1)">T3</text>
<rect x="1113.8" y="7.3" width="52.8" height="24.1" fill="#fff" stroke="#000" stroke-width="2.3"/>
<rect x="1211.0" y="7.3" width="53.0" height="24.1" fill="#fff" stroke="#000" stroke-width="2.3"/>
<rect x="1214.5" y="10.8" width="46.0" height="17.1" fill="#bfbfbf"/>
<defs><pattern id="h14" patternUnits="userSpaceOnUse" width="8.2" height="8.2" patternTransform="translate(1314.50,7.30)"><rect width="8.2" height="8.2" fill="#fff"/><path d="M-2,2 L2,-2 M-2,10.20 L10.20,-2 M6.20,10.20 L10.20,6.20" stroke="#000" stroke-width="1.85"/></pattern></defs>
<rect x="1308.0" y="7.3" width="53.0" height="24.1" fill="url(#h14)" stroke="#000" stroke-width="2.3"/>
<text font-size="27" transform="translate(1174.3,29.0) scale(0.86,1)">T1</text>
<text font-size="27" transform="translate(1271.3,29.0) scale(0.86,1)">T2</text>
<text font-size="27" transform="translate(1368.8,29.0) scale(0.86,1)">T3</text>
</svg>
</body></html>
